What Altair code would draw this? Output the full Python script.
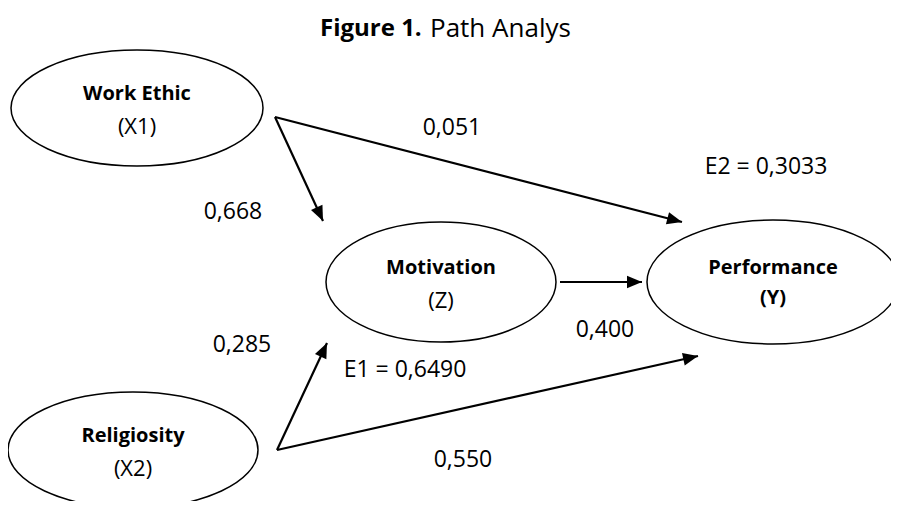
import altair as alt
import pandas as pd
import math

# ---- data (pixel coordinates) ----
node_names = ["Work Ethic", "Motivation", "Performance", "Religiosity"]
node_codes = ["(X1)", "(Z)", "(Y)", "(X2)"]
node_code_bold = [False, False, True, False]
node_cx = [137, 441, 773, 133]
node_cy = [108, 282, 282, 450]
node_rx = [126, 115, 126, 125]
node_ry = [58, 60, 62, 58]

edge_from = ["Work Ethic", "Work Ethic", "Motivation", "Religiosity", "Religiosity"]
edge_to = ["Motivation", "Performance", "Performance", "Motivation", "Performance"]
edge_x1 = [275, 275, 560, 277, 277]
edge_y1 = [117, 117, 282, 450, 450]
edge_x2 = [323, 682, 642, 327, 698]
edge_y2 = [221, 222, 282, 343, 356]

coef_text = ["0,051", "0,668", "0,400", "0,285", "0,550", "E2 = 0,3033", "E1 = 0,6490"]
coef_x = [452, 233, 605, 242, 463, 766, 405]
coef_y = [128, 212, 330, 345, 460, 167, 370]

title_parts = ["Figure 1.", "Path Analys"]
title_bold = [True, False]
title_x = [320, 430]
title_y = [29, 29]

FONT = "Open Sans"

# ---- tables ----
nodes = pd.DataFrame({
    "name": node_names, "code": node_codes, "bold": node_code_bold,
    "cx": node_cx, "cy": node_cy, "rx": node_rx, "ry": node_ry,
})
nodes["shape"] = [
    f"M -1 0 A 1 {ry/rx:.4f} 0 1 1 1 0 A 1 {ry/rx:.4f} 0 1 1 -1 0 Z"
    for rx, ry in zip(nodes.rx, nodes.ry)
]
nodes["size"] = (2 * nodes.rx) ** 2

edges = pd.DataFrame({
    "src": edge_from, "dst": edge_to,
    "x1": edge_x1, "y1": edge_y1, "x2": edge_x2, "y2": edge_y2,
})
edges["angle"] = [
    (math.degrees(math.atan2(x2 - x1, -(y2 - y1))) + 360) % 360
    for x1, y1, x2, y2 in zip(edges.x1, edges.y1, edges.x2, edges.y2)
]

coefs = pd.DataFrame({"text": coef_text, "x": coef_x, "y": coef_y})
titles = pd.DataFrame({"text": title_parts, "bold": title_bold, "x": title_x, "y": title_y})

W, H = 883, 493
xs = alt.Scale(domain=[8, 8 + W], nice=False, zero=False)
ys = alt.Scale(domain=[8, 8 + H], nice=False, zero=False, reverse=True)

X = lambda f: alt.X(f, type="quantitative", scale=xs, axis=None)
Y = lambda f: alt.Y(f, type="quantitative", scale=ys, axis=None)

ellipses = alt.Chart(nodes).mark_point(
    filled=False, stroke="black", strokeWidth=1.5, opacity=1
).encode(
    x=X("cx"), y=Y("cy"),
    shape=alt.Shape("shape:N", scale=None),
    size=alt.Size("size:Q", scale=None),
)

names = alt.Chart(nodes).mark_text(
    font=FONT, fontSize=20, fontWeight="bold", color="black", dy=-14
).encode(x=X("cx"), y=Y("cy"), text="name:N")

codes_reg = alt.Chart(nodes).transform_filter("!datum.bold").mark_text(
    font=FONT, fontSize=22, color="black", dy=19
).encode(x=X("cx"), y=Y("cy"), text="code:N")

codes_bold = alt.Chart(nodes).transform_filter("datum.bold").mark_text(
    font=FONT, fontSize=20, fontWeight="bold", color="black", dy=16
).encode(x=X("cx"), y=Y("cy"), text="code:N")

lines = alt.Chart(edges).mark_rule(color="black", strokeWidth=2.2).encode(
    x=X("x1"), y=Y("y1"), x2="x2:Q", y2="y2:Q"
)

heads = alt.Chart(edges).mark_point(
    filled=True, color="black", opacity=1, strokeWidth=0
).encode(
    x=X("x2"), y=Y("y2"),
    shape=alt.value("M 0 0 L 0.42 1 L -0.42 1 Z"),
    size=alt.value(900),
    angle=alt.Angle("angle:Q", scale=None),
)

coef_labels = alt.Chart(coefs).mark_text(
    font=FONT, fontSize=23, color="black"
).encode(x=X("x"), y=Y("y"), text="text:N")

title_bold_t = alt.Chart(titles).transform_filter("datum.bold").mark_text(
    font=FONT, fontSize=24, fontWeight="bold", color="black", align="left"
).encode(x=X("x"), y=Y("y"), text="text:N")

title_reg_t = alt.Chart(titles).transform_filter("!datum.bold").mark_text(
    font=FONT, fontSize=26, color="black", align="left"
).encode(x=X("x"), y=Y("y"), text="text:N")

chart = alt.layer(
    lines, heads, ellipses, names, codes_reg, codes_bold,
    coef_labels, title_bold_t, title_reg_t
).properties(
    width=W, height=H, padding=0, autosize="none", background="white"
).configure_view(stroke=None)

chart.save("out.html", embed_options={"renderer": "svg", "actions": False})
